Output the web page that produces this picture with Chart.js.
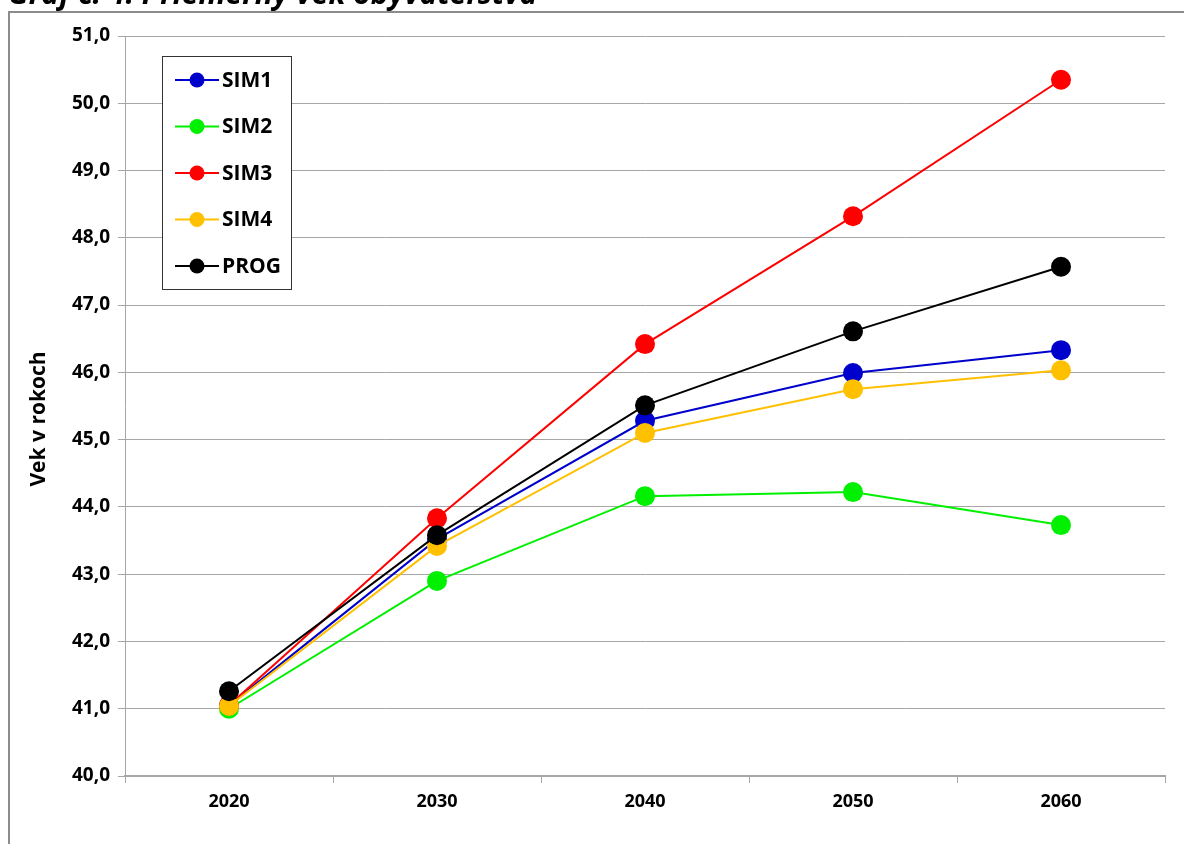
<!DOCTYPE html>
<html>
<head>
<meta charset="utf-8">
<script src="https://cdn.jsdelivr.net/npm/chart.js@4"></script>
<style>
  html, body { margin: 0; padding: 0; background: #fff; }
  #wrap { position: absolute; left: 0; top: 0; width: 1184px; height: 844px; }
</style>
</head>
<body>
<div id="wrap"><canvas id="myChart"></canvas></div>
<script>
// roky a hodnoty priemerneho veku
const roky = ["2020", "2030", "2040", "2050", "2060"];
const sim1 = [41.05, 43.52, 45.28, 45.99, 46.33];
const sim2 = [41.00, 42.90, 44.16, 44.22, 43.73];
const sim3 = [41.05, 43.83, 46.42, 48.32, 50.35];
const sim4 = [41.04, 43.42, 45.10, 45.75, 46.03];
const prog = [41.26, 43.58, 45.51, 46.61, 47.57];
const nazvy = ["SIM1", "SIM2", "SIM3", "SIM4", "PROG"];
const farby = ["#0000cc", "#00f000", "#ff0000", "#ffc000", "#000000"];

const FONT = "'Open Sans', sans-serif";

/* ramik, nadpis a popis osi y */
const frame = {
  id: "frame",
  beforeDraw(chart) {
    const c = chart.ctx;
    c.save();
    c.strokeStyle = "#8c8c8c";
    c.lineWidth = 2;
    c.beginPath();
    c.moveTo(9, 844);
    c.lineTo(9, 12);
    c.lineTo(1184, 12);
    c.stroke();
    c.fillStyle = "#000";
    c.font = "italic bold 30px " + FONT;
    c.textBaseline = "alphabetic";
    c.fillText("Graf č. 4: Priemerný vek obyvateľstva", 8, 4);
    // popis osi y
    c.translate(39, 419);
    c.rotate(-Math.PI / 2);
    c.font = "bold 21px " + FONT;
    c.textAlign = "center";
    c.textBaseline = "middle";
    c.fillText("Vek v rokoch", 0, 0);
    c.restore();
  }
};

/* legenda s ciarou a bodom */
const legenda = {
  id: "legenda",
  afterDatasetsDraw(chart) {
    const c = chart.ctx;
    c.save();
    c.fillStyle = "#fff";
    c.fillRect(162, 56, 129, 233);
    c.strokeStyle = "#333";
    c.lineWidth = 1;
    c.strokeRect(162.5, 56.5, 129, 233);
    c.font = "bold 21px " + FONT;
    c.textBaseline = "middle";
    chart.data.datasets.forEach((ds, i) => {
      const y = 80 + i * 46.5;
      c.strokeStyle = ds.borderColor;
      c.lineWidth = 2;
      c.beginPath();
      c.moveTo(175, y);
      c.lineTo(219, y);
      c.stroke();
      c.fillStyle = ds.borderColor;
      c.beginPath();
      c.arc(197, y, 7.5, 0, Math.PI * 2);
      c.fill();
      c.fillStyle = "#000";
      c.fillText(ds.label, 222, y + 1);
    });
    c.restore();
  }
};

const serie = [sim1, sim2, sim3, sim4, prog];
const datasets = serie.map((d, i) => ({
  label: nazvy[i],
  data: d,
  borderColor: farby[i],
  backgroundColor: farby[i],
  borderWidth: 2,
  pointRadius: 10,
  pointHoverRadius: 10,
  pointBorderWidth: 0,
  order: serie.length - i,
  tension: 0
}));

const ctx1 = document.getElementById("myChart").getContext("2d");

const myChart1 = new Chart(ctx1, {
  type: "line",
  data: { labels: roky, datasets: datasets },
  options: {
    responsive: true,
    maintainAspectRatio: false,
    animation: false,
    layout: { padding: { left: 20, top: 36, right: 19, bottom: 0 } },
    plugins: {
      legend: { display: false },
      tooltip: { enabled: false }
    },
    scales: {
      x: {
        offset: true,
        grid: { offset: true, drawOnChartArea: false, drawTicks: true, tickLength: 7, color: "#a6a6a6" },
        border: { color: "#a6a6a6", width: 2 },
        ticks: { color: "#000", font: { family: FONT, size: 18, weight: "bold" }, padding: 8 },
        afterFit: (s) => { s.height = 68; }
      },
      y: {
        min: 40,
        max: 51,
        ticks: {
          stepSize: 1,
          color: "#000",
          font: { family: FONT, size: 19, weight: "bold" },
          padding: 8,
          callback: (v) => v.toFixed(1).replace(".", ",")
        },
        grid: { color: "#a6a6a6", tickLength: 7 },
        border: { color: "#a6a6a6", width: 1 },
        afterFit: (s) => { s.width = 105; }
      }
    }
  },
  plugins: [frame, legenda]
});
</script>
</body>
</html>
